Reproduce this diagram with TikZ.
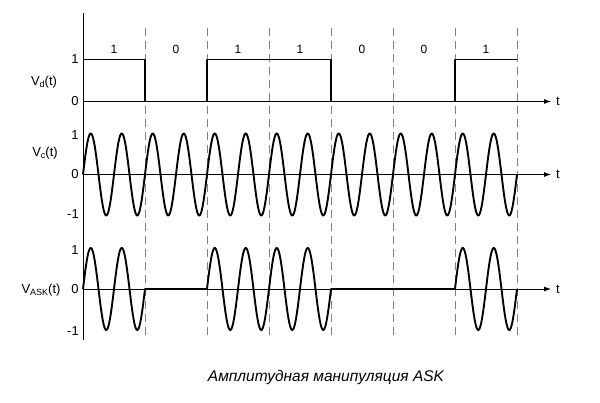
\documentclass[tikz,border=0pt]{standalone}
\usepackage{fontspec}
\setmainfont{Liberation Sans}
\usetikzlibrary{arrows.meta}
\tikzset{
  axis/.style={line width=0.8pt},
  wave/.style={line width=1.9pt, line join=round},
  gridline/.style={gray, line width=0.9pt, dash pattern=on 8pt off 5pt},
  lbl/.style={font=\fontsize{13}{15}\selectfont, inner sep=0pt},
  bitlbl/.style={font=\fontsize{12}{14}\selectfont, inner sep=0pt},
  axarrow/.style={axis, -{Latex[length=7pt,width=5pt]}},
}
\newcommand{\sub}[1]{\raisebox{-2.5pt}{\fontsize{9}{10}\selectfont #1}}
\begin{document}
\begin{tikzpicture}[x=1pt,y=-1pt]
\useasboundingbox (0,0) rectangle (600,403);
% dashed bit boundaries
\foreach \i [count=\k] in {145,207,269,331,393,455,517}{
  \coordinate (gt\k) at (\i,28);
  \coordinate (gb\k) at (\i,338);
  \draw[gridline] (gt\k) -- (gb\k);
}
% y-axis
\coordinate (ytop) at (83,13);
\coordinate (ybot) at (83,340);
\draw[axis] (ytop) -- (ybot);
% time axes
\foreach \y/\n in {101.5/d,174.5/c,289/a}{
  \coordinate (s\n) at (83,\y);
  \coordinate (e\n) at (551,\y);
  \draw[axarrow] (s\n) -- (e\n);
  \node[lbl] (t\n) at (558,\y) {t};
}
% data signal
\draw[wave] (83,59.5) -- (145,59.5) -- (145,101.5) -- (207,101.5) -- (207,59.5)
  -- (331,59.5) -- (331,101.5) -- (455,101.5) -- (455,59.5) -- (517,59.5);
% carrier
\draw[wave] plot[domain=0:434, samples=600, smooth] ({83+\x}, {174.5-41*sin(11.612903*\x)});
% ASK
\draw[wave] plot[domain=0:62, samples=100, smooth] ({83+\x}, {289-41*sin(11.612903*\x)})
  -- (207,289)
  -- plot[domain=124:248, samples=200, smooth] ({83+\x}, {289-41*sin(11.612903*\x)})
  -- (455,289)
  -- plot[domain=372:434, samples=100, smooth] ({83+\x}, {289-41*sin(11.612903*\x)});
% bit labels
\foreach \b/\x [count=\k] in {1/114,0/176,1/238,1/300,0/362,0/424,1/486}{
  \node[bitlbl] (bit\k) at (\x,49) {\b};
}
% tick labels
\node[lbl] (d1) at (75,59.5) {1};
\node[lbl] (d0) at (75,101.5) {0};
\node[lbl] (c1) at (75,135) {1};
\node[lbl] (c0) at (75,174.5) {0};
\node[lbl, anchor=east] (cm) at (79,214) {-1};
\node[lbl] (a1) at (75,250) {1};
\node[lbl] (a0) at (75,289) {0};
\node[lbl, anchor=east] (am) at (79,331) {-1};
% signal labels
\node[lbl] (Vd) at (44,82) {V\sub{d}(t)};
\node[lbl] (Vc) at (45,153) {V\sub{c}(t)};
\node[lbl] (Va) at (41,290) {V\sub{ASK}(t)};
% caption
\node[inner sep=0pt, font=\fontsize{15.5}{18}\selectfont\itshape] (cap) at (326,377) {Амплитудная манипуляция ASK};
\end{tikzpicture}
\end{document}
